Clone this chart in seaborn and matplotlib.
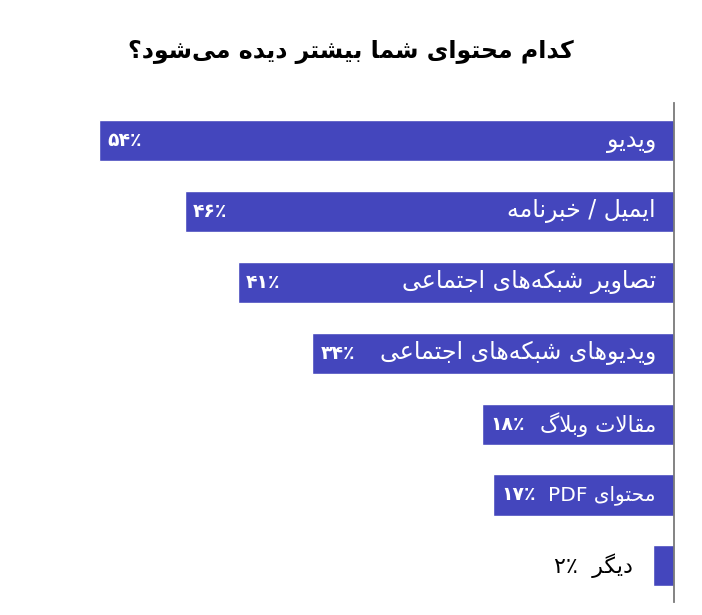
import re
import matplotlib
matplotlib.use("Agg")
import matplotlib.pyplot as plt
import pandas as pd
import seaborn as sns

title = "کدام محتوای شما بیشتر دیده می‌شود؟"
labels = ["ویدیو", "ایمیل / خبرنامه", "تصاویر شبکه‌های اجتماعی",
          "ویدیوهای شبکه‌های اجتماعی", "مقالات وبلاگ", "محتوای PDF", "دیگر"]
values = [54, 46, 41, 34, 18, 17, 2]

bar_color = "#4446bd"

# persian letters -> (isolated, final, initial, medial) presentation forms
FORMS = {
    "ا": ("\uFE8D", "\uFE8E", None, None),
    "د": ("\uFEA9", "\uFEAA", None, None),
    "ر": ("\uFEAD", "\uFEAE", None, None),
    "و": ("\uFEED", "\uFEEE", None, None),
    "ب": ("\uFE8F", "\uFE90", "\uFE91", "\uFE92"),
    "ت": ("\uFE95", "\uFE96", "\uFE97", "\uFE98"),
    "ج": ("\uFE9D", "\uFE9E", "\uFE9F", "\uFEA0"),
    "ح": ("\uFEA1", "\uFEA2", "\uFEA3", "\uFEA4"),
    "خ": ("\uFEA5", "\uFEA6", "\uFEA7", "\uFEA8"),
    "ش": ("\uFEB5", "\uFEB6", "\uFEB7", "\uFEB8"),
    "ص": ("\uFEB9", "\uFEBA", "\uFEBB", "\uFEBC"),
    "ع": ("\uFEC9", "\uFECA", "\uFECB", "\uFECC"),
    "ق": ("\uFED5", "\uFED6", "\uFED7", "\uFED8"),
    "ل": ("\uFEDD", "\uFEDE", "\uFEDF", "\uFEE0"),
    "م": ("\uFEE1", "\uFEE2", "\uFEE3", "\uFEE4"),
    "ن": ("\uFEE5", "\uFEE6", "\uFEE7", "\uFEE8"),
    "ه": ("\uFEE9", "\uFEEA", "\uFEEB", "\uFEEC"),
    "ک": ("\uFB8E", "\uFB8F", "\uFB90", "\uFB91"),
    "گ": ("\uFB92", "\uFB93", "\uFB94", "\uFB95"),
    "ی": ("\uFBFC", "\uFBFD", "\uFBFE", "\uFBFF"),
}


def dual(c):
    return c in FORMS and FORMS[c][2] is not None


def shape(word):
    out = []
    i = 0
    while i < len(word):
        c = word[i]
        if c not in FORMS:
            out.append(c)
            i += 1
            continue
        link_prev = i > 0 and dual(word[i - 1])
        if c == "ل" and i + 1 < len(word) and word[i + 1] == "ا":
            out.append("\uFEFC" if link_prev else "\uFEFB")
            i += 2
            continue
        link_next = dual(c) and i + 1 < len(word) and word[i + 1] in FORMS
        iso, fin, ini, med = FORMS[c]
        if link_prev and link_next:
            out.append(med)
        elif link_prev:
            out.append(fin)
        elif link_next:
            out.append(ini)
        else:
            out.append(iso)
        i += 1
    return "".join(out).replace("\u200c", "")


def rtl(text):
    s = shape(text)
    runs = re.findall(r"[A-Za-z0-9]+|[^A-Za-z0-9]+", s)
    return "".join(r if re.match(r"[A-Za-z0-9]", r) else r[::-1]
                   for r in reversed(runs))


fa_digits = str.maketrans("0123456789", "۰۱۲۳۴۵۶۷۸۹")


def pct(v):
    return str(v).translate(fa_digits) + "٪"


df = pd.DataFrame({"label": labels, "value": values})

sns.set_style("white")
plt.rcParams["font.family"] = ["DejaVu Sans"]

fig, ax = plt.subplots(figsize=(7.02, 6.15), dpi=100)
fig.subplots_adjust(left=60 / 702, right=674 / 702,
                    top=1 - 103 / 615, bottom=1 - 602 / 615)

sns.barplot(data=df, x="value", y="label", orient="h", color=bar_color,
            saturation=1, width=0.58, ax=ax)

ax.set_xlim(57.7, 0)
ax.set_ylim(6.51, -0.53)

pairs = []
for i, (lab, v) in enumerate(zip(labels, values)):
    if v > 10:
        t_lab = ax.annotate(rtl(lab), xy=(0, i), xytext=(-13, 0),
                            textcoords="offset points", ha="right", va="center",
                            color="white", fontsize=17)
        t_pct = ax.annotate(pct(v), xy=(v, i), xytext=(6, 0),
                            textcoords="offset points", ha="left", va="center",
                            color="white", fontsize=13.5, fontweight="bold")
        pairs.append((t_lab, t_pct))
    else:
        ax.annotate(pct(v) + "  " + rtl(lab), xy=(v, i), xytext=(-14, 0),
                    textcoords="offset points", ha="right", va="center",
                    color="black", fontsize=16)

ax.set_xticks([])
ax.set_yticks([])
ax.set_xlabel("")
ax.set_ylabel("")
for side in ["left", "top", "bottom"]:
    ax.spines[side].set_visible(False)
ax.spines["right"].set_color("#7a7a7a")
ax.spines["right"].set_linewidth(1.3)

fig.text(0.5, 1 - 52 / 615, rtl(title), ha="center", va="center",
         fontsize=17, fontweight="bold", color="black")

# shrink labels that would run into the percentage on short bars
fig.canvas.draw()
renderer = fig.canvas.get_renderer()
for t_lab, t_pct in pairs:
    right_of_pct = t_pct.get_window_extent(renderer).x1
    while t_lab.get_window_extent(renderer).x0 < right_of_pct + 10:
        t_lab.set_fontsize(t_lab.get_fontsize() - 0.5)

fig.savefig("out.png", dpi=100)
